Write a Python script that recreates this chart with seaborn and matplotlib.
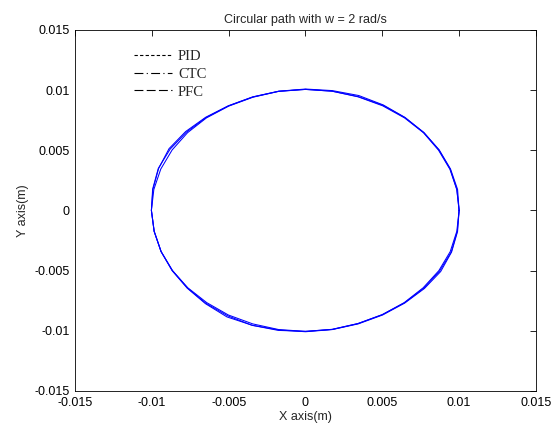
import numpy as np
import pandas as pd
import matplotlib
matplotlib.use("Agg")
import matplotlib.pyplot as plt
from matplotlib.lines import Line2D
import seaborn as sns

# points, every 10 degrees round the path
pid_x = [0.01000, 0.00990, 0.00944, 0.00870, 0.00770, 0.00648, 0.00506, 0.00347, 0.00175, 0.00000,
         -0.00175, -0.00343, -0.00502, -0.00649, -0.00780, -0.00888, -0.00956, -0.00993, -0.01003,
         -0.00985, -0.00940, -0.00868, -0.00770, -0.00651, -0.00511, -0.00347, -0.00175, 0.00000,
         0.00175, 0.00343, 0.00502, 0.00646, 0.00774, 0.00880, 0.00951, 0.00990]
pid_y = [0.00000, 0.00174, 0.00344, 0.00503, 0.00646, 0.00772, 0.00876, 0.00954, 0.00995, 0.01008,
         0.00990, 0.00943, 0.00869, 0.00774, 0.00655, 0.00513, 0.00348, 0.00175, 0.00000,
         -0.00174, -0.00342, -0.00501, -0.00646, -0.00775, -0.00885, -0.00954, -0.00993, -0.01008,
         -0.00990, -0.00943, -0.00869, -0.00770, -0.00649, -0.00508, -0.00346, -0.00175]

ctc_x = [0.01000, 0.00985, 0.00942, 0.00869, 0.00771, 0.00647, 0.00504, 0.00344, 0.00174, 0.00000,
         -0.00174, -0.00343, -0.00501, -0.00647, -0.00775, -0.00881, -0.00958, -0.00995, -0.01003,
         -0.00985, -0.00940, -0.00866, -0.00768, -0.00648, -0.00506, -0.00347, -0.00176, 0.00000,
         0.00174, 0.00342, 0.00500, 0.00644, 0.00770, 0.00873, 0.00949, 0.00988]
ctc_y = [0.00000, 0.00174, 0.00343, 0.00502, 0.00647, 0.00771, 0.00873, 0.00945, 0.00990, 0.01005,
         0.00989, 0.00942, 0.00868, 0.00771, 0.00650, 0.00509, 0.00349, 0.00176, 0.00000,
         -0.00174, -0.00342, -0.00500, -0.00645, -0.00772, -0.00876, -0.00955, -0.00997, -0.01005,
         -0.00988, -0.00940, -0.00866, -0.00768, -0.00646, -0.00504, -0.00345, -0.00174]

pfc_x = [0.01000, 0.00985, 0.00940, 0.00866, 0.00768, 0.00645, 0.00502, 0.00343, 0.00174, 0.00000,
         -0.00174, -0.00342, -0.00500, -0.00645, -0.00768, -0.00868, -0.00942, -0.00987, -0.01003,
         -0.00985, -0.00940, -0.00866, -0.00766, -0.00643, -0.00502, -0.00343, -0.00174, 0.00000,
         0.00174, 0.00342, 0.00500, 0.00643, 0.00766, 0.00868, 0.00942, 0.00985]
pfc_y = [0.00000, 0.00174, 0.00342, 0.00500, 0.00645, 0.00768, 0.00869, 0.00943, 0.00990, 0.01005,
         0.00989, 0.00940, 0.00866, 0.00768, 0.00645, 0.00502, 0.00343, 0.00174, 0.00000,
         -0.00174, -0.00342, -0.00500, -0.00643, -0.00766, -0.00869, -0.00943, -0.00990, -0.01005,
         -0.00989, -0.00940, -0.00866, -0.00766, -0.00643, -0.00501, -0.00343, -0.00174]

series = {"PID": (pid_x, pid_y), "CTC": (ctc_x, ctc_y), "PFC": (pfc_x, pfc_y)}
legend_styles = {"PID": (0, (3, 2)), "CTC": (0, (8, 3, 1, 3)), "PFC": (0, (8, 3))}

sns.set_theme(style="white")
plt.rcParams["font.family"] = ["Liberation Sans", "DejaVu Sans"]

fig = plt.figure(figsize=(5.6, 4.32), dpi=100)
ax = fig.add_axes([0.134, 0.095, 0.823, 0.836])

for name, (xs, ys) in series.items():
    df = pd.DataFrame({"x": xs + xs[:1], "y": ys + ys[:1]})
    sns.lineplot(data=df, x="x", y="y", sort=False, estimator=None,
                 color="blue", linewidth=0.75, ax=ax)

ax.set_xlim(-0.015, 0.015)
ax.set_ylim(-0.015, 0.015)
ticks = [-0.015, -0.01, -0.005, 0, 0.005, 0.01, 0.015]
tick_labels = ["-0.015", "-0.01", "-0.005", "0", "0.005", "0.01", "0.015"]
ax.set_xticks(ticks)
ax.set_xticklabels(tick_labels)
ax.set_yticks(ticks)
ax.set_yticklabels(tick_labels)
ax.tick_params(direction="in", top=True, right=True, length=4, width=0.6,
               labelsize=9, colors="black", pad=4)
for s in ax.spines.values():
    s.set_color("black")
    s.set_linewidth(0.6)

ax.set_xlabel("X axis(m)", fontsize=9, labelpad=2)
ax.set_ylabel("Y axis(m)", fontsize=9, labelpad=4)
ax.set_title("Circular path with w = 2 rad/s", fontsize=9, pad=5)

handles = [Line2D([], [], color="black", linewidth=0.8, linestyle=legend_styles[n]) for n in series]
ax.legend(handles, list(series.keys()), loc="upper left", bbox_to_anchor=(0.1, 0.98),
          frameon=False, handlelength=2.6, handletextpad=0.4, labelspacing=0.3,
          prop={"family": "Liberation Serif", "size": 10.5})

fig.savefig("out.png", dpi=100)
